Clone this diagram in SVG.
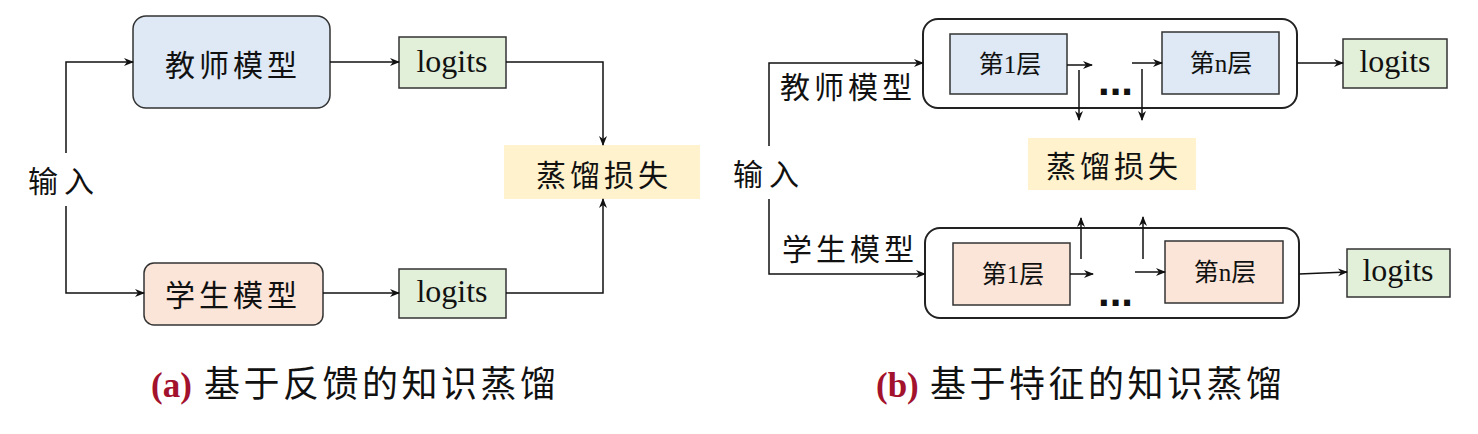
<svg xmlns="http://www.w3.org/2000/svg" width="1478" height="434" viewBox="0 0 1478 434">
<defs>
<marker id="arr" markerUnits="userSpaceOnUse" markerWidth="10" markerHeight="10" viewBox="0 0 10 10" refX="9" refY="5" orient="auto">
<path d="M0,1 L10,5 L0,9 L3,5 z" fill="#111"/>
</marker>
<style>
.cn{font-family:"Noto Sans CJK SC",sans-serif;fill:#111}
.lbl{font-size:30px;letter-spacing:4px}
.lg{font-family:"Liberation Serif",serif;font-size:32px;fill:#111;text-anchor:middle}
.ly{font-family:"Liberation Serif","Noto Sans CJK SC",serif;font-size:25px;fill:#111;text-anchor:middle}
.dots{font-family:"Liberation Sans",sans-serif;font-weight:bold;font-size:42px;fill:#111}
.box{stroke:#333;stroke-width:1.5}
.t{fill:#dee9f5}.s{fill:#fbe5d8}.g{fill:#e2efd9}.y{fill:#fff2cc}
.cont{fill:#fff;stroke:#222;stroke-width:2}
.ln{fill:none;stroke:#111;stroke-width:1.5}
.cap{font-family:"Noto Sans CJK SC",sans-serif;font-size:36px;letter-spacing:3.5px;fill:#111}
.capl{font-family:"Liberation Serif",serif;font-weight:bold;font-size:35px;fill:#a3122d}
</style>
</defs>

<!-- (a) -->
<g id="input-a"><text class="cn" x="28" y="192" font-size="30" letter-spacing="6">输入</text></g>
<g id="teacher-a">
<rect class="box t" x="133" y="16" width="197" height="92" rx="13"/>
<text class="cn lbl" x="233" y="76" text-anchor="middle">教师模型</text>
</g>
<g id="student-a">
<rect class="box s" x="144" y="263" width="179" height="62" rx="10"/>
<text class="cn lbl" x="233" y="306" text-anchor="middle">学生模型</text>
</g>
<g id="logits-a1">
<rect class="box g" x="399" y="37" width="107" height="51"/>
<text class="lg" x="452" y="72">logits</text>
</g>
<g id="logits-a2">
<rect class="box g" x="399" y="269" width="107" height="49"/>
<text class="lg" x="452" y="302">logits</text>
</g>
<g id="loss-a">
<rect class="y" x="504" y="145" width="196" height="54"/>
<text class="cn lbl" x="604" y="186" text-anchor="middle">蒸馏损失</text>
</g>
<g id="caption-a">
<text class="capl" x="151" y="397">(a)</text>
<text class="cap" x="204" y="397">基于反馈的知识蒸馏</text>
</g>

<!-- (b) -->
<g id="input-b"><text class="cn" x="733" y="185" font-size="30" letter-spacing="6">输入</text></g>
<g id="teacher-b">
<rect class="cont" x="923" y="19" width="374" height="89" rx="15"/>
<text class="cn lbl" x="848" y="98" text-anchor="middle">教师模型</text>
<rect class="box t" x="950" y="34" width="117" height="60"/>
<text class="ly" x="1010" y="73">第1层</text>
<rect class="box t" x="1162" y="32" width="117" height="62"/>
<text class="ly" x="1221" y="72">第n层</text>
<text class="dots" x="1098" y="95">...</text>
</g>
<g id="student-b">
<rect class="cont" x="925" y="228" width="374" height="90" rx="15"/>
<text class="cn lbl" x="850" y="260" text-anchor="middle">学生模型</text>
<rect class="box s" x="953" y="243" width="117" height="62"/>
<text class="ly" x="1013" y="283">第1层</text>
<rect class="box s" x="1165" y="241" width="118" height="62"/>
<text class="ly" x="1225" y="281">第n层</text>
<text class="dots" x="1098" y="306">...</text>
</g>
<g id="logits-b1">
<rect class="box g" x="1343" y="39" width="104" height="49"/>
<text class="lg" x="1395" y="72">logits</text>
</g>
<g id="logits-b2">
<rect class="box g" x="1347" y="249" width="103" height="48"/>
<text class="lg" x="1398" y="281">logits</text>
</g>
<g id="loss-b">
<rect class="y" x="1028" y="138" width="168" height="52"/>
<text class="cn lbl" x="1114" y="177" text-anchor="middle">蒸馏损失</text>
</g>
<g id="caption-b">
<text class="capl" x="876" y="397">(b)</text>
<text class="cap" x="930" y="397">基于特征的知识蒸馏</text>
</g>

<g id="connectors">
<path class="ln" d="M66,153 V62 H133" marker-end="url(#arr)"/>
<path class="ln" d="M66,206 V293 H144" marker-end="url(#arr)"/>
<path class="ln" d="M330,62 H399" marker-end="url(#arr)"/>
<path class="ln" d="M506,62 H603 V145" marker-end="url(#arr)"/>
<path class="ln" d="M323,293 H399" marker-end="url(#arr)"/>
<path class="ln" d="M506,293 H603 V199" marker-end="url(#arr)"/>

<path class="ln" d="M769,146 V63 H923" marker-end="url(#arr)"/>
<path class="ln" d="M769,199 V274 H925" marker-end="url(#arr)"/>
<path class="ln" d="M1067,65 H1092" marker-end="url(#arr)"/>
<path class="ln" d="M1079,70 V120" marker-end="url(#arr)"/>
<path class="ln" d="M1132,63 H1162" marker-end="url(#arr)"/>
<path class="ln" d="M1142,69 V120" marker-end="url(#arr)"/>
<path class="ln" d="M1297,63 H1343" marker-end="url(#arr)"/>
<path class="ln" d="M1070,274 H1093" marker-end="url(#arr)"/>
<path class="ln" d="M1081,259 V218" marker-end="url(#arr)"/>
<path class="ln" d="M1135,272 H1165" marker-end="url(#arr)"/>
<path class="ln" d="M1143,259 V217" marker-end="url(#arr)"/>
<path class="ln" d="M1299,274 L1347,272" marker-end="url(#arr)"/>
</g>
</svg>
